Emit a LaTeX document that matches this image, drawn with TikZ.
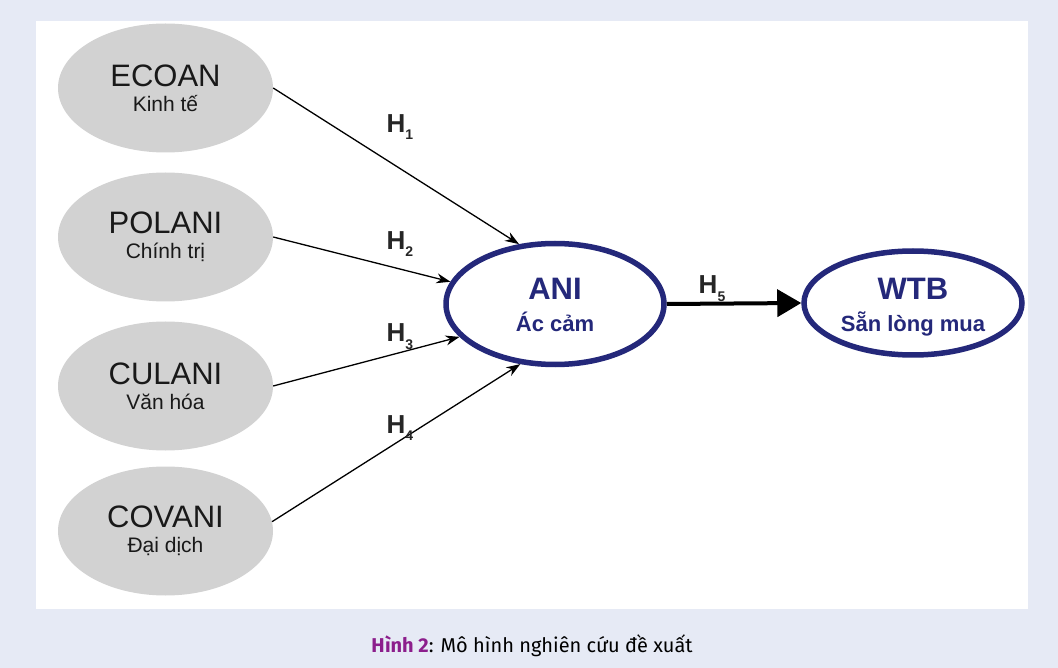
\documentclass[tikz,border=0pt]{standalone}
\usepackage{fontspec}
\setmainfont{Liberation Sans}
\newfontfamily\capfont{Fira Sans}
\usetikzlibrary{shapes.geometric,arrows.meta}
\definecolor{bgblue}{RGB}{230,234,245}
\definecolor{ovalgray}{RGB}{210,210,210}
\definecolor{navy}{RGB}{36,40,122}
\definecolor{capurple}{RGB}{140,30,140}
\newcommand\hlab[1]{H\raisebox{-0.3em}{\fontsize{14}{14}\selectfont #1}}
\newcommand\twolines[3]{{\fontsize{#1}{#1}\selectfont #2}\\{#3}}
\tikzset{
  factor/.style={ellipse, fill=ovalgray, inner sep=0pt, minimum width=215pt, minimum height=129pt, align=center, text=black!90, font=\fontsize{21}{25}\selectfont},
  bigoval/.style={ellipse, draw=navy, line width=5.5pt, fill=white, inner sep=0pt},
  ovaltext/.style={align=center, text=navy, inner sep=0pt, font=\bfseries\fontsize{22}{32}\selectfont},
  thinarrow/.style={line width=1.3pt, -{Stealth[length=14pt,width=10pt]}},
  bigarrow/.style={line width=4pt, -{Triangle[length=24pt,width=27pt]}},
  hlabel/.style={font=\bfseries\fontsize{26}{26}\selectfont, inner sep=0pt, text=black!85}
}
\begin{document}
\begin{tikzpicture}[x=1pt,y=-1pt]
\useasboundingbox (0,0) rectangle (1058,668);
\fill[bgblue] (0,0) rectangle (1058,668);
\fill[white] (36,21) rectangle (1028,609);
% factor ellipses
\node[factor] (ecoan) at (165.5,88) {\twolines{31}{ECOAN}{Kinh tế}};
\node[factor] (polani) at (165.5,237) {\twolines{31}{POLANI}{Chính trị}};
\node[factor] (culani) at (165.5,386) {\twolines{31}{CULANI}{Văn hóa}};
\node[factor] (covani) at (165.5,531) {\twolines{31}{COVANI}{Đại dịch}};
% main ellipses
\node[bigoval, minimum width=218pt, minimum height=121pt] (ani) at (555,304) {};
\node[ovaltext] (anitext) at (555,305) {\twolines{31}{ANI}{Ác cảm}};
\node[bigoval, minimum width=218pt, minimum height=104pt] (wtb) at (913,303) {};
\node[ovaltext] (wtbtext) at (913,307) {\twolines{31}{WTB}{Sẵn lòng mua}};
% connectors
\draw[thinarrow] (ecoan.east) -- (ani.121);
\draw[thinarrow] (polani.east) -- (ani.168);
\draw[thinarrow] (culani.east) -- (ani.199);
\draw[thinarrow] (covani.5) -- (ani.240);
\draw[bigarrow] (ani.east) -- (wtb.west);
% labels
\node[hlabel] (h1) at (400,127) {\hlab{1}};
\node[hlabel] (h2) at (400,244) {\hlab{2}};
\node[hlabel] (h3) at (400,337) {\hlab{3}};
\node[hlabel] (h4) at (400,428) {\hlab{4}};
\node[hlabel] (h5) at (712,289) {\hlab{5}};
% caption
\node[font=\capfont\fontsize{20}{22}\selectfont, inner sep=0pt] (cap) at (532,646) {{\color{capurple}\bfseries Hình 2}: Mô hình nghiên cứu đề xuất};
\end{tikzpicture}
\end{document}
